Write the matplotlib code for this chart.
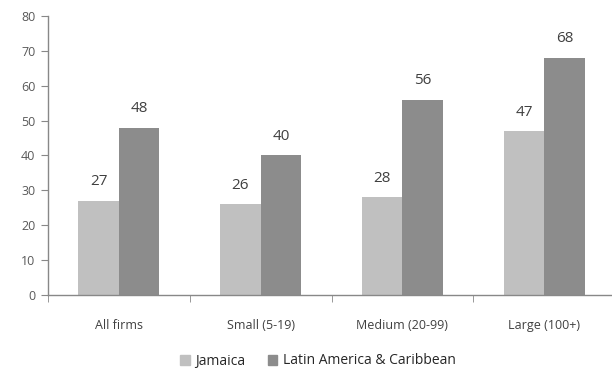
import matplotlib
matplotlib.use("Agg")
import matplotlib.pyplot as plt
import numpy as np
from matplotlib.patches import Patch

categories = ["All firms", "Small (5-19)", "Medium (20-99)", "Large (100+)"]
jamaica = [27, 26, 28, 47]
lac = [48, 40, 56, 68]
series_names = ["Jamaica", "Latin America & Caribbean"]
colors = ["#c0c0c0", "#8c8c8c"]

plt.rcParams['font.family'] = ['Open Sans', 'DejaVu Sans']

W, H = 612, 373
fig = plt.figure(figsize=(W/100, H/100), dpi=100)
left, right = 48, 615
bottom, top = 295, 16
ax = fig.add_axes([left/W, (H-bottom)/H, (right-left)/W, (bottom-top)/H])

x = np.arange(len(categories))
bw = 0.285
b1 = ax.bar(x - bw/2, jamaica, bw, color=colors[0], zorder=2)
b2 = ax.bar(x + bw/2, lac, bw, color=colors[1], zorder=2)
for bars, vals in ((b1, jamaica), (b2, lac)):
    for r, v in zip(bars, vals):
        ax.text(r.get_x() + r.get_width()/2, v + 3.3, str(v), ha='center', va='bottom',
                fontsize=11, color='#404040')

ax.set_xlim(-0.5, len(categories) - 0.5)
ax.set_ylim(0, 80)
ax.set_yticks(range(0, 81, 10))
ax.set_xticks(x)
ax.set_xticklabels(categories)
ax.set_xticks(np.arange(-0.5, len(categories) + 0.5, 1), minor=True)
ax.tick_params(axis='x', which='major', length=0, pad=17, labelsize=9, labelcolor='#404040')
ax.tick_params(axis='x', which='minor', length=5, color='#888888', direction='out')
ax.tick_params(axis='y', length=5, color='#888888', labelsize=9, labelcolor='#595959', pad=4)
for s in ('top', 'right'):
    ax.spines[s].set_visible(False)
for s in ('left', 'bottom'):
    ax.spines[s].set_color('#888888')
    ax.spines[s].set_linewidth(1)

handles = [Patch(color=c) for c in colors]
fig.legend(handles, series_names, loc='center', bbox_to_anchor=(318/W, (H-361)/H),
           ncol=2, frameon=False, fontsize=10, handlelength=0.7, handleheight=0.7,
           handletextpad=0.4, columnspacing=1.6, labelcolor='#262626')

fig.savefig("out.png", dpi=100)
